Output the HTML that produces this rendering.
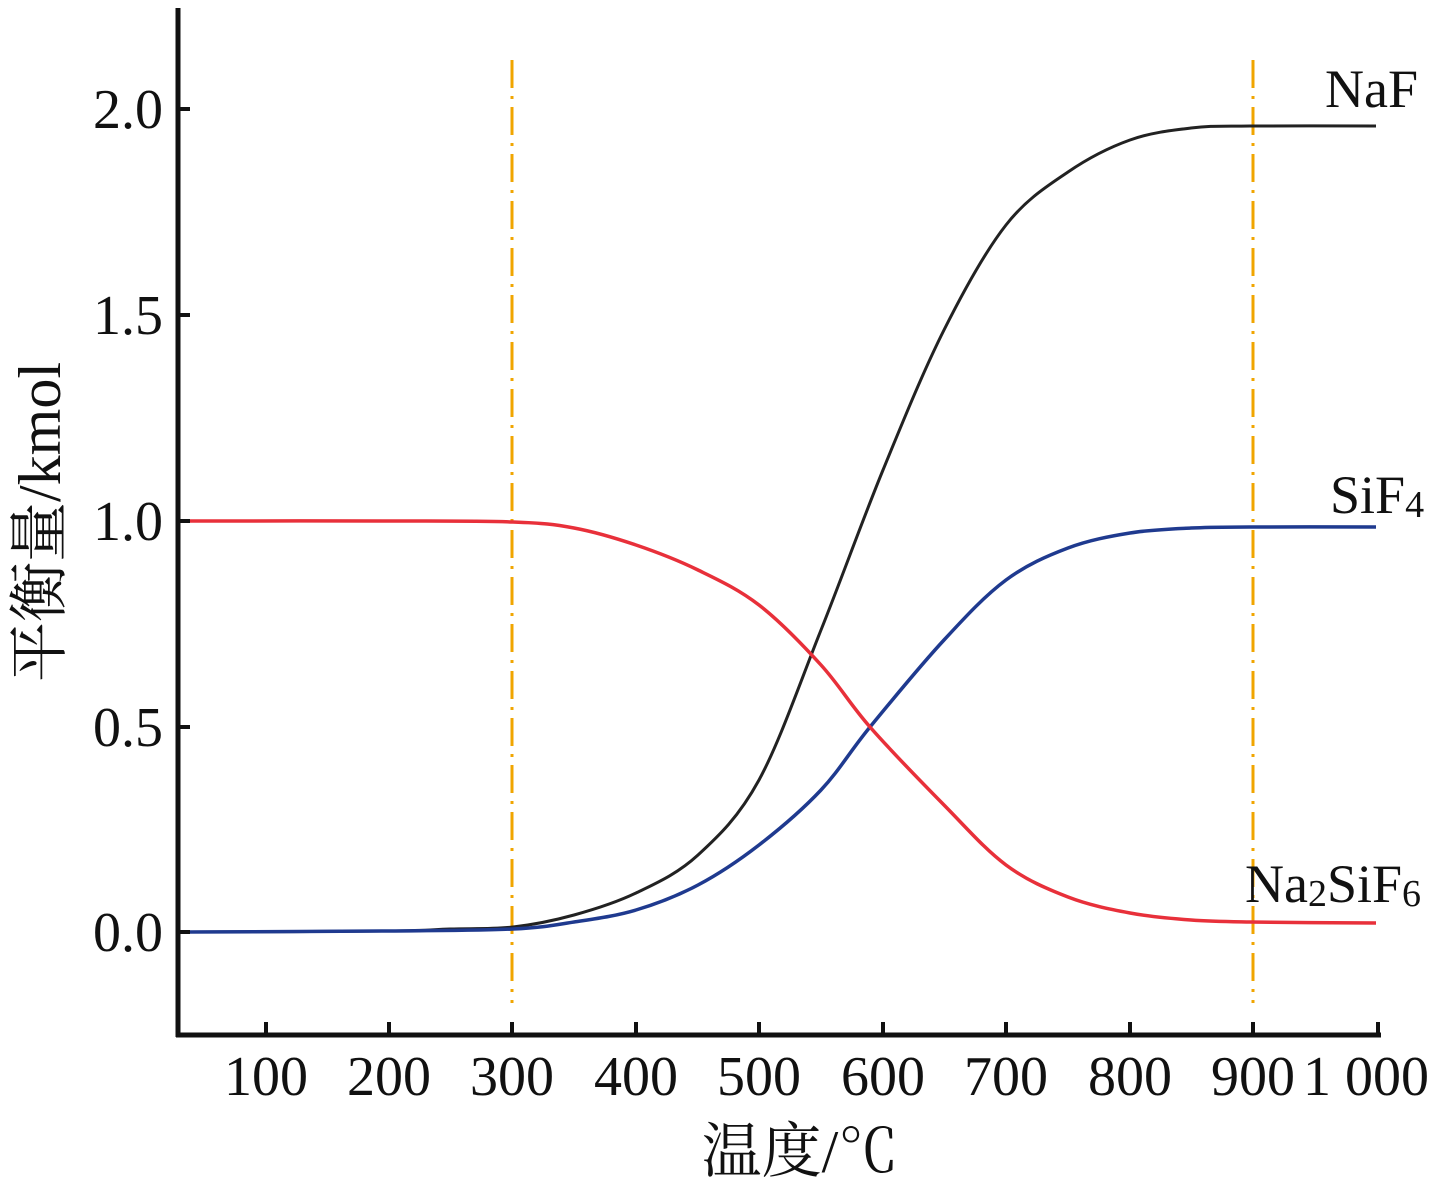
<!DOCTYPE html>
<html><head><meta charset="utf-8"><style>
body{margin:0;background:#fff}
svg{display:block}
text{font-family:"Liberation Serif","Noto Serif CJK SC",serif;fill:#111}
</style></head><body>
<svg id="s" width="1441" height="1181" viewBox="0 0 1441 1181">
<g stroke="#111" stroke-width="5" fill="none">
<line x1="178" y1="8" x2="178" y2="1037"/>
<line x1="176" y1="1035" x2="1381" y2="1035"/>
</g>
<g stroke="#111" stroke-width="4">
<line x1="178" y1="109" x2="190" y2="109"/>
<line x1="178" y1="315" x2="190" y2="315"/>
<line x1="178" y1="521" x2="190" y2="521"/>
<line x1="178" y1="727" x2="190" y2="727"/>
<line x1="178" y1="932" x2="190" y2="932"/>
<line x1="266" y1="1035" x2="266" y2="1022"/>
<line x1="389" y1="1035" x2="389" y2="1022"/>
<line x1="512" y1="1035" x2="512" y2="1022"/>
<line x1="636" y1="1035" x2="636" y2="1022"/>
<line x1="759" y1="1035" x2="759" y2="1022"/>
<line x1="883" y1="1035" x2="883" y2="1022"/>
<line x1="1006" y1="1035" x2="1006" y2="1022"/>
<line x1="1130" y1="1035" x2="1130" y2="1022"/>
<line x1="1253" y1="1035" x2="1253" y2="1022"/>
<line x1="1378" y1="1035" x2="1378" y2="1022"/>
</g>
<g stroke="#f0a500" stroke-width="3" stroke-dasharray="28,8,3,8">
<line x1="512" y1="60" x2="512" y2="1003"/>
<line x1="1253" y1="60" x2="1253" y2="1003"/>
</g>
<path id="k" fill="none" stroke="#222" stroke-width="3"/>
<path id="b" fill="none" stroke="#1f3a8f" stroke-width="3.5"/>
<path id="r" fill="none" stroke="#e8303a" stroke-width="3.5"/>
<g font-size="56" text-anchor="end">
<text x="163" y="128">2.0</text>
<text x="163" y="334">1.5</text>
<text x="163" y="540">1.0</text>
<text x="163" y="746">0.5</text>
<text x="163" y="951">0.0</text>
</g>
<g font-size="56" text-anchor="middle">
<text x="266" y="1095">100</text>
<text x="389" y="1095">200</text>
<text x="512" y="1095">300</text>
<text x="636" y="1095">400</text>
<text x="759" y="1095">500</text>
<text x="883" y="1095">600</text>
<text x="1006" y="1095">700</text>
<text x="1130" y="1095">800</text>
<text x="1253" y="1095">900</text>
<text x="1366" y="1095">1 000</text>
</g>
<text x="800" y="1172" font-size="60" text-anchor="middle">温度/℃</text>
<text transform="translate(60,522) rotate(-90)" font-size="60" text-anchor="middle">平衡量/kmol</text>
<text x="1325" y="107" font-size="54">NaF</text>
<text x="1330" y="513" font-size="54">SiF<tspan font-size="38" dy="4">4</tspan></text>
<text x="1245" y="902" font-size="54">Na<tspan font-size="38" dy="4">2</tspan><tspan dy="-4">SiF</tspan><tspan font-size="38" dy="4">6</tspan></text>
</svg>
<script>
function sm(p){let d="M"+p[0][0]+","+p[0][1];for(let i=0;i<p.length-1;i++){const p0=p[i-1]||p[i],p1=p[i],p2=p[i+1],p3=p[i+2]||p2;
d+=" C"+(p1[0]+(p2[0]-p0[0])/6)+","+(p1[1]+(p2[1]-p0[1])/6)+" "+(p2[0]-(p3[0]-p1[0])/6)+","+(p2[1]-(p3[1]-p1[1])/6)+" "+p2[0]+","+p2[1];}return d;}
const K=[[190,932],[389,931],[450,929],[513,927],[574,915],[636,893],[698,855],[759,780],[821,630],[883,470],[944,330],[1006,225],[1068,172],[1130,140],[1191,128],[1250,126],[1376,126]];
const B=[[190,932],[389,931],[513,929],[574,922],[636,910],[698,885],[759,845],[821,790],[870,727],[944,640],[1006,580],[1068,548],[1130,533],[1191,528],[1250,527],[1376,527]];
const R=[[190,521],[389,521],[513,522],[574,528],[636,545],[698,570],[759,605],[821,665],[870,727],[944,805],[1006,865],[1068,897],[1130,913],[1191,920],[1250,922],[1376,923]];
document.getElementById("k").setAttribute("d",sm(K));
document.getElementById("b").setAttribute("d",sm(B));
document.getElementById("r").setAttribute("d",sm(R));
</script>
</body></html>
